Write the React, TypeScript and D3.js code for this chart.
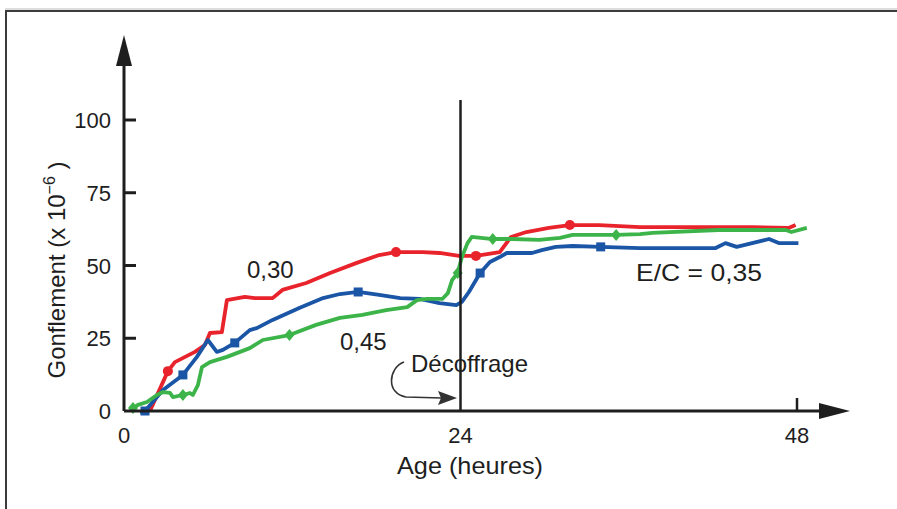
import React from "react";
import * as d3 from "d3";

// Gonflement (x 10^-6) vs age (heures)
const ticksX = [0, 24, 48];
const ticksY = [0, 25, 50, 75, 100];

// E/C = 0,30
const red: [number, number][] = [
  [1.85, 0], [3.13, 13.7], [3.63, 16.8], [5.06, 20.3], [5.77, 22.7], [6.13, 26.8],
  [6.98, 27.1], [7.34, 38.1], [8.62, 39.2], [9.33, 38.8], [10.6, 38.8], [11.3, 41.6],
  [13.0, 44.0], [14.7, 47.4], [16.6, 50.9], [18.2, 53.6], [19.4, 54.6], [21.3, 54.6],
  [22.5, 54.3], [23.9, 53.3], [25.1, 53.3], [26.8, 54.6], [27.6, 59.8], [28.7, 61.5],
  [30.3, 62.9], [31.8, 63.9], [33.9, 63.9], [36.8, 63.2], [44.8, 63.2], [47.4, 62.9],
  [47.9, 63.9],
];
const redMarks: [number, number][] = [[3.13, 13.7], [19.4, 54.6], [25.1, 53.3], [31.8, 63.9]];

// E/C = 0,35
const blue: [number, number][] = [
  [1.14, -0.5], [1.5, 0], [2.78, 7.2], [4.2, 12.4], [5.2, 18.6], [5.98, 24.4],
  [6.62, 20.3], [7.05, 21.0], [7.9, 23.4], [8.97, 27.8], [9.47, 28.5], [10.6, 31.3],
  [12.5, 35.4], [14.2, 38.8], [15.4, 40.2], [16.7, 40.9], [18.2, 39.9], [19.7, 38.8],
  [21.1, 38.5], [22.5, 37.1], [23.7, 36.4], [24.1, 37.5], [24.6, 40.9], [25.4, 47.4],
  [26.1, 51.2], [26.8, 52.9], [27.3, 54.3], [29.1, 54.3], [29.8, 55.3], [30.8, 56.4],
  [32.0, 56.7], [34.0, 56.4], [36.8, 56.0], [42.2, 56.0], [42.9, 57.7], [43.7, 56.4],
  [44.8, 57.7], [46.0, 59.1], [46.7, 57.7], [48.1, 57.7],
];
const blueMarks: [number, number][] = [[1.5, 0], [4.2, 12.4], [7.9, 23.4], [16.7, 40.9], [25.4, 47.4], [34.0, 56.4]];

// E/C = 0,45
const green: [number, number][] = [
  [0.64, 1.0], [1.0, 2.1], [1.64, 3.1], [2.35, 5.5], [2.78, 6.5], [3.28, 6.2],
  [3.49, 4.8], [4.2, 5.5], [4.7, 6.2], [4.91, 5.5], [5.27, 8.9], [5.56, 15.1],
  [6.13, 16.8], [7.34, 18.6], [8.97, 21.6], [9.9, 24.4], [11.8, 26.1], [13.7, 29.6],
  [15.4, 32.0], [17.0, 33.0], [18.7, 34.7], [20.2, 35.7], [20.9, 38.1], [21.6, 38.5],
  [22.7, 38.5], [23.1, 40.5], [23.4, 45.0], [23.8, 47.4], [24.1, 52.9], [24.5, 57.7],
  [24.8, 59.8], [26.3, 59.1], [27.7, 59.1], [29.6, 58.8], [31.1, 59.5], [32.0, 60.5],
  [33.4, 60.5], [35.1, 60.5], [36.8, 60.8], [37.7, 61.2], [42.4, 62.2], [47.2, 62.2],
  [47.6, 61.5], [48.7, 62.9],
];
const greenMarks: [number, number][] = [[0.64, 1.0], [4.2, 5.5], [11.8, 26.1], [23.8, 47.4], [26.3, 59.1], [35.1, 60.5]];

const RED = "#e8232b";
const BLUE = "#1b56a6";
const GREEN = "#3cb449";
const INK = "#1e1e1e";
const font = "'Liberation Sans', Arial, sans-serif";

export default function App() {
  const x = d3.scaleLinear().domain([0, 48]).range([124, 797]);
  const y = d3.scaleLinear().domain([0, 100]).range([411, 120]);
  const line = d3.line<[number, number]>().x(d => x(d[0])).y(d => y(d[1]));

  const x0 = x(0), y0 = y(0);
  const xDec = x(24);

  return (
    <svg width={897} height={509} style={{ position: "absolute", left: 0, top: 0, background: "#fff" }}>
      {/* frame */}
      <rect x={6} y={11} width={1000} height={600} fill="none" stroke="#3c3c3c" strokeWidth={2} />
      <line x1={5} y1={9} x2={897} y2={9} stroke="#bbb" strokeWidth={1} />

      {/* series */}
      <path d={line(red) || ""} fill="none" stroke={RED} strokeWidth={3.8} strokeLinejoin="round" />
      <path d={line(blue) || ""} fill="none" stroke={BLUE} strokeWidth={3.8} strokeLinejoin="round" />
      <path d={line(green) || ""} fill="none" stroke={GREEN} strokeWidth={3.8} strokeLinejoin="round" />
      {redMarks.map((d, i) => (
        <circle key={"r" + i} cx={x(d[0])} cy={y(d[1])} r={5} fill={RED} />
      ))}
      {blueMarks.map((d, i) => (
        <rect key={"b" + i} x={x(d[0]) - 4.5} y={y(d[1]) - 4.5} width={9} height={9} fill={BLUE} />
      ))}
      {greenMarks.map((d, i) => (
        <path key={"g" + i} transform={`translate(${x(d[0])},${y(d[1])})`} d="M0,-6L5,0L0,6L-5,0Z" fill={GREEN} />
      ))}

      {/* décoffrage line */}
      <line x1={xDec} y1={100} x2={xDec} y2={y0} stroke={INK} strokeWidth={2.5} />

      {/* axes */}
      <line x1={x0} y1={y0} x2={x0} y2={60} stroke={INK} strokeWidth={3} />
      <path d={`M${x0},35L${x0 + 8},66L${x0 - 8},66Z`} fill={INK} />
      <line x1={x0} y1={y0} x2={825} y2={y0} stroke={INK} strokeWidth={3} />
      <path d={`M850,${y0}L819,${y0 - 8}L819,${y0 + 8}Z`} fill={INK} />
      {ticksY.filter(t => t > 0).map(t => (
        <line key={"ty" + t} x1={x0} y1={y(t)} x2={x0 + 12} y2={y(t)} stroke={INK} strokeWidth={3} />
      ))}
      <line x1={x(48)} y1={y0} x2={x(48)} y2={y0 - 13} stroke={INK} strokeWidth={2.5} />

      {ticksY.map(t => (
        <text key={"ly" + t} x={111} y={y(t) + 8} textAnchor="end" fontFamily={font} fontSize={22} fill={INK}>
          {t}
        </text>
      ))}
      {ticksX.map(t => (
        <text key={"lx" + t} x={x(t)} y={443} textAnchor="middle" fontFamily={font} fontSize={22} fill={INK}>
          {t}
        </text>
      ))}

      <text x={470} y={474} textAnchor="middle" fontFamily={font} fontSize={24} fill={INK} textLength={146} lengthAdjust="spacingAndGlyphs">
        Age (heures)
      </text>
      <text transform="translate(65,270) rotate(-90)" textAnchor="middle" fontFamily={font} fontSize={24} fill={INK}>
        Gonflement (x 10<tspan dy={-10} fontSize={16}>−6</tspan><tspan dy={10}> )</tspan>
      </text>

      {/* annotations */}
      <text x={247} y={278} fontFamily={font} fontSize={24} fill={INK}>0,30</text>
      <text x={340} y={350} fontFamily={font} fontSize={24} fill={INK}>0,45</text>
      <text x={636} y={281} fontFamily={font} fontSize={24} fill={INK} textLength={126} lengthAdjust="spacingAndGlyphs">E/C = 0,35</text>
      <text x={411} y={372} fontFamily={font} fontSize={24} fill={INK} textLength={117} lengthAdjust="spacingAndGlyphs">Décoffrage</text>
      <path d="M404,362C388,368 386,394 406,397L442,398" fill="none" stroke="#333" strokeWidth={1.6} />
      <path d="M457,398L438,391L441,398L438,405Z" fill="#333" />
    </svg>
  );
}
